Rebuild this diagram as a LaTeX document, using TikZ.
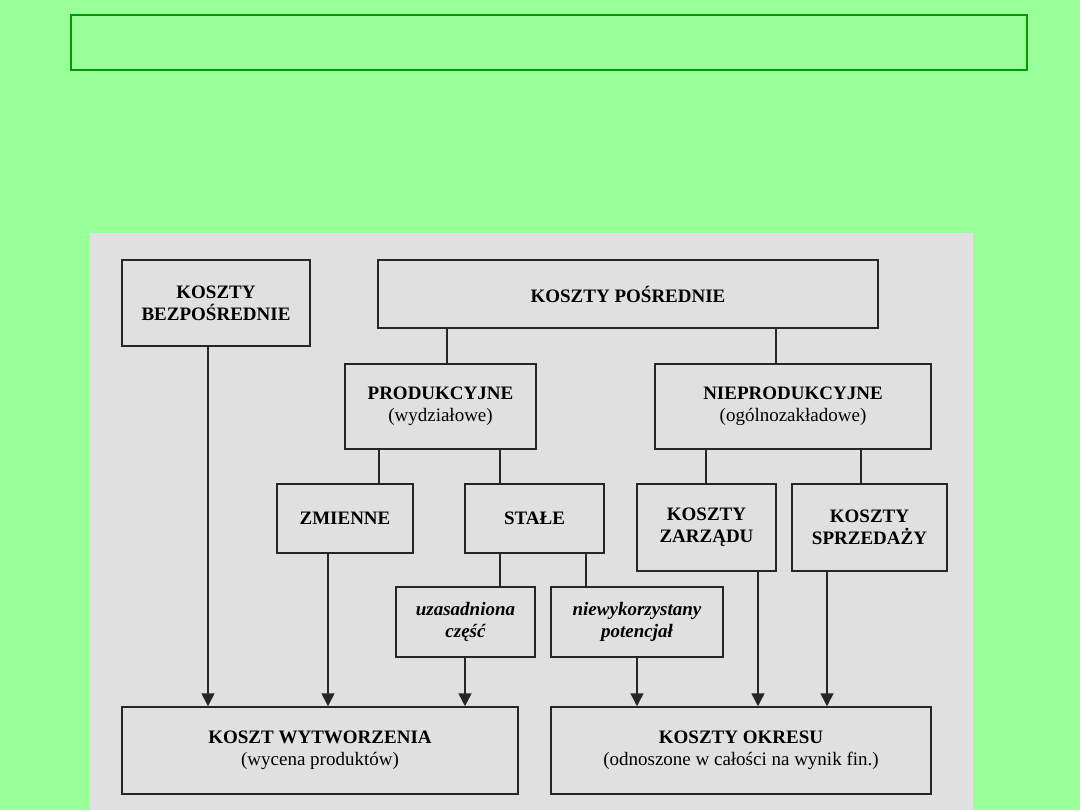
\documentclass[tikz,border=0pt]{standalone}
\usepackage{fontspec}
\setmainfont{Liberation Serif}
\usetikzlibrary{arrows.meta}

\definecolor{bggreen}{HTML}{99FF99}
\definecolor{framegreen}{HTML}{009900}
\definecolor{panelgray}{HTML}{E0E0E0}

\begin{document}
\begin{tikzpicture}[x=1pt, y=-1pt,
    box/.style={draw=black!85, line width=1.5pt, inner sep=0pt, align=center,
        font=\fontsize{19}{22}\selectfont},
    ital/.style={font=\fontsize{19}{22}\selectfont\bfseries\itshape},
    link/.style={draw=black!85, line width=1.5pt},
    arr/.style={link, -{Triangle[length=13pt, width=13pt]}}]

    % background and panel
    \useasboundingbox (0,0) rectangle (1080,810);
    \fill[bggreen] (0,0) rectangle (1080,810);
    \draw[framegreen, line width=2pt] (71,15) rectangle (1027,70);
    \fill[panelgray] (90,233) rectangle (973,810);

    % top row
    \node[box, minimum width=188pt, minimum height=86pt] (bezp) at (216,303) {\textbf{KOSZTY}\\\textbf{BEZPOŚREDNIE}};
    \node[box, minimum width=500pt, minimum height=68pt] (posr) at (628,294) {\textbf{KOSZTY POŚREDNIE}};

    % second row
    \node[box, minimum width=191pt, minimum height=85pt] (prod) at (440.5,406.5) {\textbf{PRODUKCYJNE}\\(wydziałowe)};
    \node[box, minimum width=276pt, minimum height=85pt] (nieprod) at (793,406.5) {\textbf{NIEPRODUKCYJNE}\\(ogólnozakładowe)};

    % third row
    \node[box, minimum width=136pt, minimum height=69pt] (zmienne) at (345,518.5) {\textbf{ZMIENNE}};
    \node[box, minimum width=139pt, minimum height=69pt] (stale) at (534.5,518.5) {\textbf{STAŁE}};
    \node[box, minimum width=139pt, minimum height=87pt] (zarzad) at (706.5,527.5) {\textbf{KOSZTY}\\\textbf{ZARZĄDU}};
    \node[box, minimum width=155pt, minimum height=87pt] (sprzedaz) at (869.5,527.5) {\textbf{KOSZTY}\\\textbf{SPRZEDAŻY}};

    % split of fixed costs
    \node[box, ital, minimum width=139pt, minimum height=70pt] (uzas) at (465.5,622) {uzasadniona\\część};
    \node[box, ital, minimum width=172pt, minimum height=70pt] (niewyk) at (637,622) {niewykorzystany\\potencjał};

    % bottom row
    \node[box, minimum width=396pt, minimum height=87pt] (wytw) at (320,750.5) {\textbf{KOSZT WYTWORZENIA}\\(wycena produktów)};
    \node[box, minimum width=380pt, minimum height=87pt] (okres) at (741,750.5) {\textbf{KOSZTY OKRESU}\\(odnoszone w całości na wynik fin.)};

    % tree lines
    \draw[link] (posr.south -| 447,0) -- (prod.north -| 447,0);
    \draw[link] (posr.south -| 776,0) -- (nieprod.north -| 776,0);
    \draw[link] (prod.south -| 379,0) -- (zmienne.north -| 379,0);
    \draw[link] (prod.south -| 500,0) -- (stale.north -| 500,0);
    \draw[link] (nieprod.south -| 706,0) -- (zarzad.north -| 706,0);
    \draw[link] (nieprod.south -| 861,0) -- (sprzedaz.north -| 861,0);
    \draw[link] (stale.south -| 500,0) -- (uzas.north -| 500,0);
    \draw[link] (stale.south -| 586,0) -- (niewyk.north -| 586,0);

    % arrows down
    \draw[arr] (bezp.south -| 208,0) -- (wytw.north -| 208,0);
    \draw[arr] (zmienne.south -| 328,0) -- (wytw.north -| 328,0);
    \draw[arr] (uzas.south -| 465,0) -- (wytw.north -| 465,0);
    \draw[arr] (niewyk.south -| 637,0) -- (okres.north -| 637,0);
    \draw[arr] (zarzad.south -| 758,0) -- (okres.north -| 758,0);
    \draw[arr] (sprzedaz.south -| 827,0) -- (okres.north -| 827,0);

\end{tikzpicture}
\end{document}
